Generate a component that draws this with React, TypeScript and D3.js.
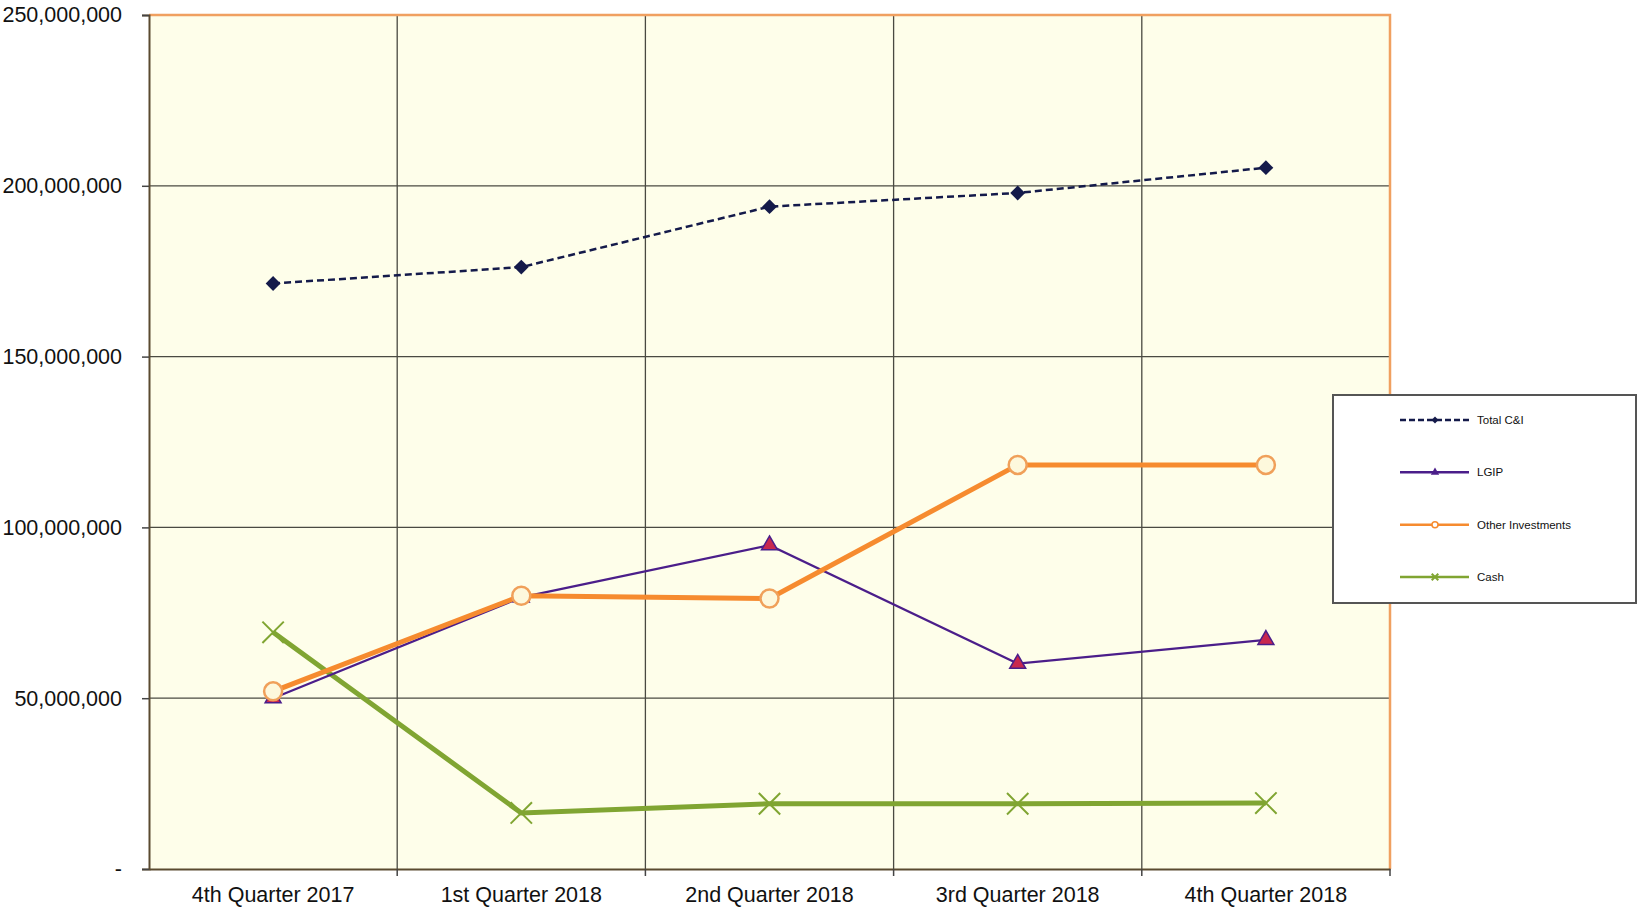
import React, { useRef, useEffect } from "react";
import * as d3 from "d3";

// Quarter labels along the x axis
const quarters = [
  "4th Quarter 2017",
  "1st Quarter 2018",
  "2nd Quarter 2018",
  "3rd Quarter 2018",
  "4th Quarter 2018",
];

// Series values (dollars)
const totalCI = [171400000, 176200000, 193900000, 197900000, 205300000];
const lgip = [50000000, 79500000, 94800000, 60100000, 67100000];
const otherInvestments = [52000000, 80000000, 79200000, 118300000, 118300000];
const cash = [69300000, 16400000, 19100000, 19100000, 19300000];

const yTicks = [0, 50000000, 100000000, 150000000, 200000000, 250000000];

const seriesNames = ["Total C&I", "LGIP", "Other Investments", "Cash"];

const FONT = "'Liberation Sans', Arial, sans-serif";

const App: React.FC = () => {
  const svgRef = useRef<SVGSVGElement>(null);

  useEffect(() => {
    if (!svgRef.current) return;
    document.body.style.margin = "0";

    const width = 1639;
    const height = 911;
    const margin = { left: 149, right: 249, top: 15, bottom: 42 };

    const svg = d3.select(svgRef.current);
    svg.selectAll("*").remove();
    svg.style("font-family", FONT);

    const x = d3
      .scaleBand()
      .domain(quarters)
      .range([margin.left, width - margin.right]);
    const y = d3
      .scaleLinear()
      .domain([0, 250000000])
      .range([height - margin.bottom, margin.top]);

    const x0 = margin.left;
    const x1 = width - margin.right;
    const yTop = margin.top;
    const yBot = height - margin.bottom;

    // plot area background
    svg
      .append("rect")
      .attr("x", x0)
      .attr("y", yTop)
      .attr("width", x1 - x0)
      .attr("height", yBot - yTop)
      .attr("fill", "#fefeea");

    // horizontal gridlines
    svg
      .append("g")
      .selectAll("line")
      .data(yTicks.slice(1, -1))
      .join("line")
      .attr("x1", x0)
      .attr("x2", x1)
      .attr("y1", (d) => y(d))
      .attr("y2", (d) => y(d))
      .attr("stroke", "#4a4a42")
      .attr("stroke-width", 1.3);

    // vertical gridlines between categories
    svg
      .append("g")
      .selectAll("line")
      .data(quarters.slice(1))
      .join("line")
      .attr("x1", (d) => x(d)!)
      .attr("x2", (d) => x(d)!)
      .attr("y1", yTop)
      .attr("y2", yBot)
      .attr("stroke", "#4a4a42")
      .attr("stroke-width", 1.3);

    // orange top and right border
    svg
      .append("path")
      .attr("d", `M${x0},${yTop}H${x1}V${yBot}`)
      .attr("fill", "none")
      .attr("stroke", "#f0a060")
      .attr("stroke-width", 2.5);

    // y axis
    const yAxis = svg
      .append("g")
      .attr("transform", `translate(${x0},0)`)
      .call(
        d3
          .axisLeft(y)
          .tickValues(yTicks)
          .tickSize(7)
          .tickPadding(20)
          .tickFormat((d) => (+d === 0 ? "-" : d3.format(",")(+d)))
      );
    yAxis.select(".domain").attr("stroke", "#5a4a30").attr("stroke-width", 2);
    yAxis.selectAll(".tick line").attr("stroke", "#444").attr("stroke-width", 1.5);
    yAxis
      .selectAll(".tick text")
      .attr("fill", "#111")
      .style("font-size", "21.5px")
      .style("font-family", FONT);

    // x axis
    const xAxis = svg
      .append("g")
      .attr("transform", `translate(0,${yBot})`)
      .call(d3.axisBottom(x).tickSize(0).tickPadding(18));
    xAxis.select(".domain").attr("stroke", "#5a4a30").attr("stroke-width", 2);
    xAxis
      .selectAll(".tick text")
      .attr("fill", "#111")
      .style("font-size", "21.5px")
      .style("font-family", FONT);
    xAxis
      .append("g")
      .selectAll("line")
      .data(quarters.slice(1).concat(["end"]))
      .join("line")
      .attr("x1", (d) => (d === "end" ? x1 : x(d)!))
      .attr("x2", (d) => (d === "end" ? x1 : x(d)!))
      .attr("y1", 0)
      .attr("y2", 7)
      .attr("stroke", "#444")
      .attr("stroke-width", 1.5);

    const cx = (i: number) => x(quarters[i])! + x.bandwidth() / 2;
    const line = d3
      .line<number>()
      .x((d, i) => cx(i))
      .y((d) => y(d));

    // Cash
    svg
      .append("path")
      .datum(cash)
      .attr("d", line)
      .attr("fill", "none")
      .attr("stroke", "#80a532")
      .attr("stroke-width", 5);

    // LGIP
    svg
      .append("path")
      .datum(lgip)
      .attr("d", line)
      .attr("fill", "none")
      .attr("stroke", "#4b1e8a")
      .attr("stroke-width", 2.2);

    // Other Investments
    svg
      .append("path")
      .datum(otherInvestments)
      .attr("d", line)
      .attr("fill", "none")
      .attr("stroke", "#f68b2f")
      .attr("stroke-width", 5);

    // Total C&I
    svg
      .append("path")
      .datum(totalCI)
      .attr("d", line)
      .attr("fill", "none")
      .attr("stroke", "#141a4a")
      .attr("stroke-width", 2.5)
      .attr("stroke-dasharray", "7,4");

    const diamond = d3.symbol().type(d3.symbolDiamond2).size(140);
    const triangle = d3.symbol().type(d3.symbolTriangle).size(110);
    const cross = d3.symbol().type(d3.symbolX).size(300);

    svg
      .append("g")
      .selectAll("path")
      .data(cash)
      .join("path")
      .attr("transform", (d, i) => `translate(${cx(i)},${y(d)})`)
      .attr("d", cross)
      .attr("fill", "none")
      .attr("stroke", "#80a532")
      .attr("stroke-width", 2);

    svg
      .append("g")
      .selectAll("path")
      .data(lgip)
      .join("path")
      .attr("transform", (d, i) => `translate(${cx(i)},${y(d)})`)
      .attr("d", triangle)
      .attr("fill", "#c8284e")
      .attr("stroke", "#4b1e8a")
      .attr("stroke-width", 1.5);

    svg
      .append("g")
      .selectAll("circle")
      .data(otherInvestments)
      .join("circle")
      .attr("cx", (d, i) => cx(i))
      .attr("cy", (d) => y(d))
      .attr("r", 9)
      .attr("fill", "#fdf8dc")
      .attr("stroke", "#f0a05a")
      .attr("stroke-width", 2.5);

    svg
      .append("g")
      .selectAll("path")
      .data(totalCI)
      .join("path")
      .attr("transform", (d, i) => `translate(${cx(i)},${y(d)})`)
      .attr("d", diamond)
      .attr("fill", "#141a4a");

    // Legend
    const lg = svg.append("g").attr("transform", "translate(1333,395)");
    lg.append("rect")
      .attr("width", 303)
      .attr("height", 208)
      .attr("fill", "#fff")
      .attr("stroke", "#555")
      .attr("stroke-width", 2);

    const legendStyles = [
      { color: "#141a4a", width: 2.5, dash: "6,3", mark: "diamond" },
      { color: "#4b1e8a", width: 2.5, dash: null, mark: "triangle" },
      { color: "#f68b2f", width: 2.5, dash: null, mark: "circle" },
      { color: "#80a532", width: 2.5, dash: null, mark: "cross" },
    ];
    const ly = d3.scalePoint().domain(seriesNames).range([25, 182]);

    const item = lg
      .selectAll("g.item")
      .data(seriesNames)
      .join("g")
      .attr("class", "item")
      .attr("transform", (d) => `translate(67,${ly(d)})`);

    item
      .append("line")
      .attr("x1", 0)
      .attr("x2", 69)
      .attr("stroke", (d, i) => legendStyles[i].color)
      .attr("stroke-width", (d, i) => legendStyles[i].width)
      .attr("stroke-dasharray", (d, i) => legendStyles[i].dash);

    item.each(function (d, i) {
      const g = d3.select(this);
      const s = legendStyles[i];
      if (s.mark === "circle") {
        g.append("circle")
          .attr("cx", 35)
          .attr("r", 3)
          .attr("fill", "#fff")
          .attr("stroke", s.color)
          .attr("stroke-width", 1.5);
      } else {
        const type =
          s.mark === "diamond"
            ? d3.symbolDiamond2
            : s.mark === "triangle"
            ? d3.symbolTriangle
            : d3.symbolX;
        g.append("path")
          .attr("transform", "translate(35,0)")
          .attr("d", d3.symbol().type(type).size(30)())
          .attr("fill", s.color)
          .attr("stroke", s.color)
          .attr("stroke-width", s.mark === "cross" ? 2 : 0);
      }
    });

    item
      .append("text")
      .attr("x", 77)
      .attr("dy", "0.35em")
      .attr("fill", "#111")
      .style("font-size", "11.5px")
      .text((d) => d);

    return () => {
      svg.selectAll("*").remove();
    };
  }, []);

  return (
    <svg
      ref={svgRef}
      width={1639}
      height={911}
      style={{ display: "block", background: "#fff" }}
    ></svg>
  );
};

export default App;
